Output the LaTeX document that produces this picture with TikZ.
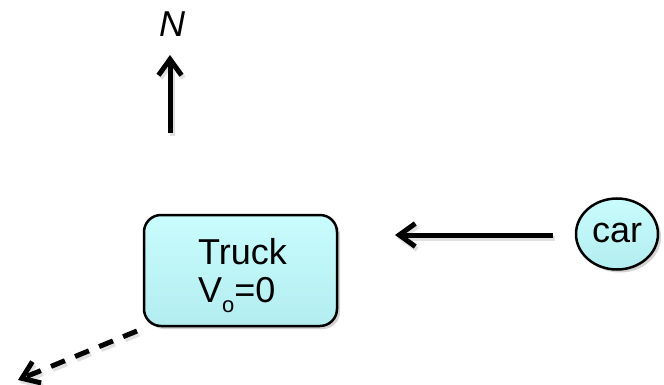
\documentclass[tikz,border=0pt]{standalone}
\usepackage{fontspec}
\setmainfont{Liberation Sans}
\usetikzlibrary{arrows.meta,shadows,shapes.geometric}
\definecolor{boxtop}{HTML}{C9FCFD}
\definecolor{boxbot}{HTML}{B3EDF0}
\tikzset{
  shapebox/.style={draw=black, line width=2.5pt, top color=boxtop, bottom color=boxbot,
    drop shadow={opacity=0.35, shadow xshift=3pt, shadow yshift=-3pt}},
  bigtext/.style={font=\fontsize{36}{40}\selectfont},
  motion/.style={line width=5pt, -{Straight Barb[length=16pt,width=23pt,line width=5pt]}},
  motionshadow/.style={line width=5pt, draw=black, opacity=0.12, -{Straight Barb[length=16pt,width=23pt,line width=5pt]}},
}
\begin{document}
\begin{tikzpicture}[x=1pt,y=-1pt]
\useasboundingbox (0,0) rectangle (664,385);
% truck box
\node[shapebox, rounded corners=17pt, inner sep=0, minimum width=193pt, minimum height=111pt] (truck) at (240.5,270.5) {};
\node[bigtext, anchor=base west, inner sep=0] (trucklbl) at (198,264) {Truck};
\node[bigtext, anchor=base west, inner sep=0] (vlbl) at (198,302) {V\raisebox{-0.3em}{\fontsize{22}{24}\selectfont o}=0};
% car
\node[shapebox, ellipse, minimum width=82pt, minimum height=71pt, inner sep=0] (car) at (617,234) {};
\node[bigtext, inner sep=0, anchor=base] (carlbl) at (617,242) {car};
% north
\node[font=\fontsize{36}{40}\selectfont\itshape, inner sep=0, anchor=base] (north) at (172,37) {N};
\coordinate (nbase) at (170,133);
\coordinate (ntip) at (170,55);
\draw[motionshadow] ([shift={(2,3)}]nbase) -- ([shift={(2,3)}]ntip);
\draw[motion] (nbase) -- (ntip);
% horizontal arrow
\coordinate (hstart) at (553,235);
\coordinate (hend) at (395,235);
\draw[motionshadow] ([shift={(2,3)}]hstart) -- ([shift={(2,3)}]hend);
\draw[motion] (hstart) -- (hend);
% dashed arrow
\coordinate (dstart) at (137,331);
\coordinate (dend) at (18,380);
\draw[motionshadow, dash pattern=on 15pt off 11pt] ([shift={(2,3)}]dstart) -- ([shift={(2,3)}]dend);
\draw[motion, dash pattern=on 15pt off 11pt] (dstart) -- (dend);
\end{tikzpicture}
\end{document}
